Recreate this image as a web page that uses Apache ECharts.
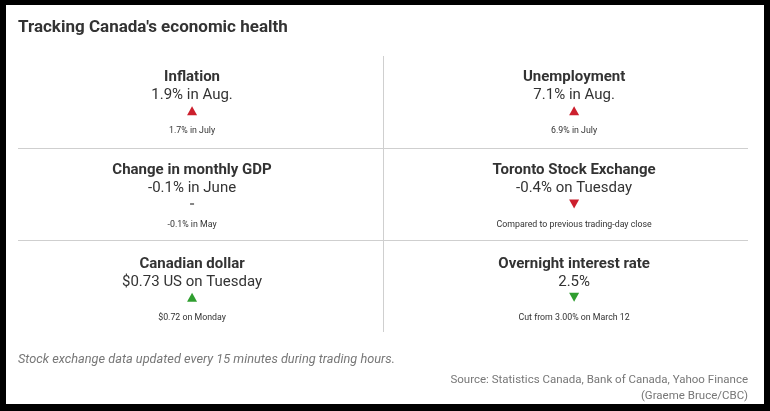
<!DOCTYPE html>
<html><head><meta charset="utf-8">
<script src="https://cdn.jsdelivr.net/npm/echarts@6/dist/echarts.min.js"></script>
<style>
html,body{margin:0;padding:0;background:#000;width:770px;height:411px;overflow:hidden}
#chart{position:absolute;left:6px;top:5px;width:758px;height:399px;background:#fff}
</style></head><body><div id="chart"></div>
<script>
const chartTitle = "Tracking Canada's economic health";
const tileTitles = ['Inflation', 'Unemployment', 'Change in monthly GDP', 'Toronto Stock Exchange', 'Canadian dollar', 'Overnight interest rate'];
const tileValues = ['1.9% in Aug.', '7.1% in Aug.', '-0.1% in June', '-0.4% on Tuesday', '$0.73 US on Tuesday', '2.5%'];
const tileTrends = ['up', 'up', 'flat', 'down', 'up', 'down'];
const tileSentiment = ['bad', 'bad', 'neutral', 'bad', 'good', 'good'];
const tileNotes = ['1.7% in July', '6.9% in July', '-0.1% in May', 'Compared to previous trading-day close', '$0.72 on Monday', 'Cut from 3.00% on March 12'];
const tileColumns = [0, 1, 0, 1, 0, 1];
const tileRows = [0, 0, 1, 1, 2, 2];
const footnote = 'Stock exchange data updated every 15 minutes during trading hours.';
const sourceLines = ['Source: Statistics Canada, Bank of Canada, Yahoo Finance', '(Graeme Bruce/CBC)'];

const FONT = 'Roboto, sans-serif';
const sentimentColor = { bad: '#cc1f2d', good: '#2f9e2f', neutral: '#444' };

const pts = tileTitles.map((t, i) => [tileColumns[i], tileRows[i]]);

const symbolData = pts.map((p, i) => {
  const tr = tileTrends[i];
  return {
    value: p,
    symbol: tr === 'flat' ? 'rect' : 'triangle',
    symbolSize: tr === 'flat' ? [4, 1.3] : [10, 9],
    symbolRotate: tr === 'down' ? 180 : 0,
    itemStyle: { color: sentimentColor[tileSentiment[i]], opacity: 1 }
  };
});

function textSeries(name, texts, offsetY, style) {
  return {
    name, type: 'scatter', xAxisIndex: 1, yAxisIndex: 1, silent: true,
    symbolSize: 1, itemStyle: { color: 'rgba(0,0,0,0)', opacity: 1 },
    data: pts.map((p, i) => ({ value: p, label: { formatter: texts[i] } })),
    label: Object.assign({ show: true, position: 'inside', offset: [0, offsetY], color: '#333', fontFamily: FONT }, style)
  };
}

const chart = echarts.init(document.getElementById('chart'), null, { renderer: 'canvas' });
chart.setOption({
  animation: false,
  backgroundColor: '#fff',
  title: [
    { text: chartTitle, left: 12, top: 13, padding: 0,
      textStyle: { fontFamily: FONT, fontSize: 17, fontWeight: 'bold', color: '#333', lineHeight: 20 } },
    { text: footnote, left: 12, top: 347, padding: 0,
      textStyle: { fontFamily: FONT, fontSize: 12.75, fontStyle: 'italic', fontWeight: 'normal', color: '#777', lineHeight: 16 } },
    { text: sourceLines[0], right: 16, top: 367, padding: 0,
      textStyle: { fontFamily: FONT, fontSize: 11.5, fontWeight: 'normal', color: '#777', lineHeight: 16 } },
    { text: sourceLines[1], right: 16, top: 383, padding: 0,
      textStyle: { fontFamily: FONT, fontSize: 11.5, fontWeight: 'normal', color: '#777', lineHeight: 16 } }
  ],
  grid: [
    { left: 12, right: 16, top: 51, bottom: 72 },
    { left: 0, right: 0, top: 59, bottom: 60 }
  ],
  xAxis: [
    { type: 'value', gridIndex: 0, min: 0, max: 2, interval: 1,
      axisLine: { show: false }, axisTick: { show: false }, axisLabel: { show: false },
      splitLine: { show: true, showMinLine: false, showMaxLine: false, lineStyle: { color: '#cfcfcf', width: 1 } } },
    { type: 'value', gridIndex: 1, min: -0.487, max: 1.497,
      axisLine: { show: false }, axisTick: { show: false }, axisLabel: { show: false }, splitLine: { show: false } }
  ],
  yAxis: [
    { type: 'value', gridIndex: 0, min: 0, max: 3, interval: 1,
      axisLine: { show: false }, axisTick: { show: false }, axisLabel: { show: false },
      splitLine: { show: true, showMinLine: false, showMaxLine: false, lineStyle: { color: '#cfcfcf', width: 1 } } },
    { type: 'value', gridIndex: 1, min: -0.5, max: 2.5, inverse: true,
      axisLine: { show: false }, axisTick: { show: false }, axisLabel: { show: false }, splitLine: { show: false } }
  ],
  series: [
    { name: 'trend', type: 'scatter', xAxisIndex: 1, yAxisIndex: 1, silent: true, data: symbolData },
    textSeries('titles', tileTitles, -33.5, { fontSize: 15, fontWeight: 'bold' }),
    textSeries('values', tileValues, -15.5, { fontSize: 15, fontWeight: 'normal' }),
    textSeries('notes', tileNotes, 20.5, { fontSize: 8.8, fontWeight: 'normal' })
  ]
});
</script></body></html>
